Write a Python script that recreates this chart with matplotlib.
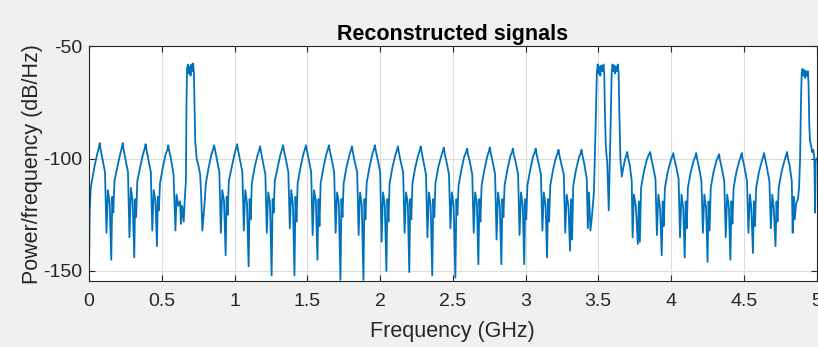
import matplotlib
matplotlib.use('Agg')
import matplotlib.pyplot as plt

plt.rcParams['font.family'] = ['Liberation Sans', 'DejaVu Sans']
plt.rcParams['axes.unicode_minus'] = False

title = "Reconstructed signals"
xlabel = "Frequency (GHz)"
ylabel = "Power/frequency (dB/Hz)"
xticks = [0, 0.5, 1, 1.5, 2, 2.5, 3, 3.5, 4, 4.5, 5]
xticklabels = ['0', '0.5', '1', '1.5', '2', '2.5', '3', '3.5', '4', '4.5', '5']
yticks = [-150, -100, -50]

# trace, one row per lobe / spike
freq_ghz = [
    0.000, 0.005, 0.012, 0.036, 0.056, 0.068, 0.074, 0.080, 0.092, 0.110, 0.120, 0.130, 0.142,
    0.153, 0.160, 0.167, 0.175, 0.194, 0.214, 0.226, 0.232, 0.238, 0.250, 0.268, 0.278, 0.288, 0.300,
    0.311, 0.317, 0.324, 0.332, 0.351, 0.371, 0.383, 0.389, 0.395, 0.407, 0.425, 0.435, 0.445, 0.457,
    0.467, 0.473, 0.480, 0.488, 0.507, 0.527, 0.539, 0.545, 0.551, 0.563, 0.581, 0.594, 0.602, 0.614,
    0.626, 0.632, 0.640, 0.651, 0.658, 0.666,
    0.670, 0.674, 0.680, 0.686, 0.692, 0.698, 0.704, 0.710, 0.716, 0.721, 0.725, 0.730, 0.740, 0.752,
    0.764, 0.772, 0.779,
    0.793, 0.803, 0.822, 0.842, 0.854, 0.860, 0.866, 0.878, 0.896, 0.906, 0.916, 0.928,
    0.939, 0.946, 0.953, 0.961, 0.980, 1.000, 1.012, 1.018, 1.024, 1.036, 1.054, 1.064, 1.074, 1.086,
    1.097, 1.104, 1.111, 1.119, 1.138, 1.158, 1.170, 1.176, 1.182, 1.194, 1.212, 1.222, 1.232, 1.244,
    1.255, 1.262, 1.269, 1.277, 1.296, 1.316, 1.328, 1.334, 1.340, 1.352, 1.370, 1.380, 1.390, 1.402,
    1.412, 1.419, 1.426, 1.434, 1.453, 1.473, 1.485, 1.491, 1.497, 1.509, 1.527, 1.537, 1.547, 1.559,
    1.570, 1.577, 1.584, 1.592, 1.611, 1.631, 1.643, 1.649, 1.655, 1.667, 1.685, 1.695, 1.705, 1.717,
    1.728, 1.735, 1.742, 1.750, 1.769, 1.789, 1.801, 1.807, 1.813, 1.825, 1.843, 1.853, 1.863, 1.875,
    1.886, 1.893, 1.900, 1.908, 1.927, 1.947, 1.959, 1.965, 1.971, 1.983, 2.001, 2.011, 2.021, 2.033,
    2.044, 2.051, 2.058, 2.066, 2.085, 2.105, 2.117, 2.123, 2.129, 2.141, 2.159, 2.169, 2.179, 2.191,
    2.201, 2.208, 2.215, 2.223, 2.242, 2.262, 2.274, 2.280, 2.286, 2.298, 2.316, 2.326, 2.336, 2.348,
    2.359, 2.366, 2.373, 2.381, 2.400, 2.420, 2.432, 2.438, 2.444, 2.456, 2.474, 2.484, 2.494, 2.506,
    2.518, 2.525, 2.532, 2.540, 2.559, 2.579, 2.592, 2.598, 2.604, 2.616, 2.634, 2.644, 2.654, 2.666,
    2.676, 2.683, 2.690, 2.698, 2.717, 2.737, 2.749, 2.755, 2.761, 2.773, 2.791, 2.801, 2.811, 2.823,
    2.834, 2.841, 2.848, 2.856, 2.875, 2.895, 2.907, 2.913, 2.919, 2.931, 2.949, 2.959, 2.969, 2.981,
    2.991, 2.998, 3.005, 3.013, 3.032, 3.052, 3.064, 3.070, 3.076, 3.088, 3.106, 3.116, 3.126, 3.138,
    3.148, 3.155, 3.162, 3.170, 3.189, 3.209, 3.221, 3.227, 3.233, 3.245, 3.263, 3.273, 3.283, 3.295,
    3.306, 3.313, 3.320, 3.328, 3.347, 3.367, 3.379, 3.385, 3.391, 3.403, 3.421, 3.428, 3.436, 3.446,
    3.456, 3.470,
    3.482, 3.490, 3.496, 3.502, 3.508, 3.514, 3.520, 3.528, 3.536, 3.541, 3.546, 3.552, 3.562, 3.572,
    3.580, 3.588,
    3.592, 3.598, 3.604, 3.610, 3.616, 3.622, 3.628, 3.634, 3.640, 3.645, 3.652, 3.662, 3.672,
    3.685, 3.693, 3.699, 3.705, 3.717, 3.730, 3.736, 3.745, 3.758,
    3.772, 3.779, 3.786, 3.794, 3.813, 3.833, 3.845, 3.857, 3.863, 3.875, 3.893, 3.903, 3.913, 3.925,
    3.936, 3.943, 3.950, 3.958, 3.977, 3.997, 4.010, 4.016, 4.022, 4.034, 4.052, 4.062, 4.072, 4.084,
    4.094, 4.101, 4.108, 4.116, 4.135, 4.155, 4.167, 4.173, 4.179, 4.191, 4.209, 4.219, 4.229, 4.241,
    4.251, 4.258, 4.265, 4.273, 4.292, 4.312, 4.324, 4.330, 4.336, 4.348, 4.366, 4.376, 4.386, 4.398,
    4.408, 4.415, 4.422, 4.430, 4.449, 4.469, 4.480, 4.486, 4.492, 4.504, 4.522, 4.532, 4.542, 4.552,
    4.563, 4.570, 4.577, 4.585, 4.604, 4.624, 4.634, 4.640, 4.646, 4.658, 4.676, 4.686, 4.696, 4.706,
    4.718, 4.725, 4.732, 4.740, 4.759, 4.779, 4.791, 4.797, 4.803, 4.815, 4.830, 4.836, 4.843, 4.850,
    4.860, 4.872, 4.880, 4.887,
    4.893, 4.898, 4.904, 4.910, 4.916, 4.922, 4.928, 4.934, 4.940, 4.945, 4.950, 4.955, 4.962, 4.970,
    4.978, 4.985, 4.990, 4.994, 5.000,
]
psd_db = [
    -150, -123, -113, -104, -98, -95, -93, -96, -100, -106, -133, -114, -120,
    -145, -117, -124, -110, -104, -98, -95, -93, -96, -100, -106, -135, -113, -119,
    -144, -118, -126, -110, -104, -98, -95.5, -93.5, -96, -100, -106, -132, -114, -119,
    -139, -117, -123, -111, -104, -98, -96, -94, -96.5, -100, -107, -132, -116, -121,
    -119, -129, -121, -128, -118, -110,
    -75, -60, -58, -62, -59, -63, -58, -61, -57.5, -62, -75, -92, -100, -103,
    -107, -118, -132,
    -121, -111, -104, -98, -95.5, -94, -96, -100, -106, -133, -114, -119,
    -143, -117, -125, -110, -104, -98, -95, -93.5, -96, -100, -106, -132, -114, -120,
    -148, -118, -127, -111, -104, -98.5, -96, -94.5, -97, -101, -107, -133, -115, -120,
    -152, -118, -124, -110, -104, -98, -95.5, -94, -96.5, -100, -106, -131, -114, -121,
    -152, -117, -128, -111, -104, -98, -95.5, -94, -96, -100, -106, -134, -114, -119,
    -145, -118, -130, -111, -104, -98, -95.5, -94, -96.5, -100, -106, -133, -115, -120,
    -154, -118, -126, -111, -104, -98.5, -96, -94.5, -97, -101, -106, -134, -115, -121,
    -154, -118, -127, -111, -104, -98, -95.5, -94, -96.5, -100, -106, -137, -115, -121,
    -150, -118, -128, -111, -104, -98.5, -96, -94.5, -97, -101, -106, -133, -115, -120,
    -150.5, -118, -127, -111, -104, -98.5, -96, -94.5, -97, -101, -107, -135, -115, -121,
    -152, -118, -126, -111, -104, -99, -96.5, -95, -97.5, -101, -107, -131, -115, -121,
    -153, -118, -125, -112, -105, -99, -97, -95.5, -98, -101, -107, -133, -115, -120,
    -147, -118, -128, -112, -105, -99, -96.5, -95, -97.5, -101, -107, -136, -115, -121,
    -147, -118, -126, -112, -105, -99, -97, -95.5, -98, -101, -107, -134, -115, -121,
    -147, -118, -127, -112, -105, -99, -97, -95.5, -98, -101.5, -107, -132, -115, -121,
    -144, -118, -128, -112, -105, -99.5, -97.5, -96, -98.5, -102, -107, -133, -116, -121,
    -141, -118, -136, -112, -105, -99.5, -97.5, -96, -98.5, -102, -109, -131, -115, -132,
    -126, -115,
    -85, -62, -58, -62, -59, -63, -58.5, -61, -58, -62, -80, -95, -102, -123,
    -100, -75,
    -62, -58, -61, -58.5, -62, -59, -61, -58, -62, -80, -100, -108, -104,
    -100, -98.5, -97, -99.5, -103, -110, -135, -116, -121,
    -138, -119, -137, -113, -106, -100.5, -98.5, -97, -99.5, -103, -109, -134, -116, -122,
    -143, -119, -130, -113, -106, -101, -98.5, -97.5, -100, -103, -109, -135, -116, -122,
    -144, -119, -131, -113, -106, -101, -99, -97.5, -100, -103.5, -110, -133, -116, -122,
    -146, -119, -132, -113, -106, -101, -99, -98, -100.5, -104, -110, -135, -116, -122,
    -145, -119, -129, -113, -106, -101, -99, -97.5, -100, -103.5, -110, -133, -116, -122,
    -142, -119, -130, -113, -106, -101, -99, -97.5, -100, -103.5, -110, -131, -116, -122,
    -139, -119, -128, -113, -106, -101, -98.5, -97, -99.5, -103, -110, -133, -117, -127,
    -120, -118, -113, -100,
    -75, -62, -60, -63, -60.5, -64, -61, -63, -61, -66, -85, -92, -94, -97,
    -96, -100, -124, -101, -100,
]

fig = plt.figure(figsize=(8.18, 3.47), dpi=100, facecolor='#f0f0f0')
ax = fig.add_axes([0.1088, 0.1888, 0.8894, 0.6772])
ax.set_facecolor('white')
ax.plot(freq_ghz, psd_db, color='#0072BD', linewidth=1.3)

ax.set_xlim(0, 5)
ax.set_ylim(-154.7, -50)
ax.set_xticks(xticks)
ax.set_xticklabels(xticklabels)
ax.set_yticks(yticks)
ax.grid(True, color='#dcdcdc', linewidth=0.8)
ax.set_axisbelow(True)
ax.tick_params(direction='in', length=4, top=True, right=True, labelsize=14,
               colors='#262626', width=0.8)
ax.tick_params(axis='x', pad=8)
ax.tick_params(axis='y', pad=5)
for s in ax.spines.values():
    s.set_color('#262626')
    s.set_linewidth(0.8)

ax.set_title(title, fontsize=15.5, fontweight='bold', color='black', pad=5)
ax.set_xlabel(xlabel, fontsize=15.5, color='#262626', labelpad=8)
ax.set_ylabel(ylabel, fontsize=15.5, color='#262626', labelpad=0)

plt.savefig('out.png', dpi=100, facecolor=fig.get_facecolor())
